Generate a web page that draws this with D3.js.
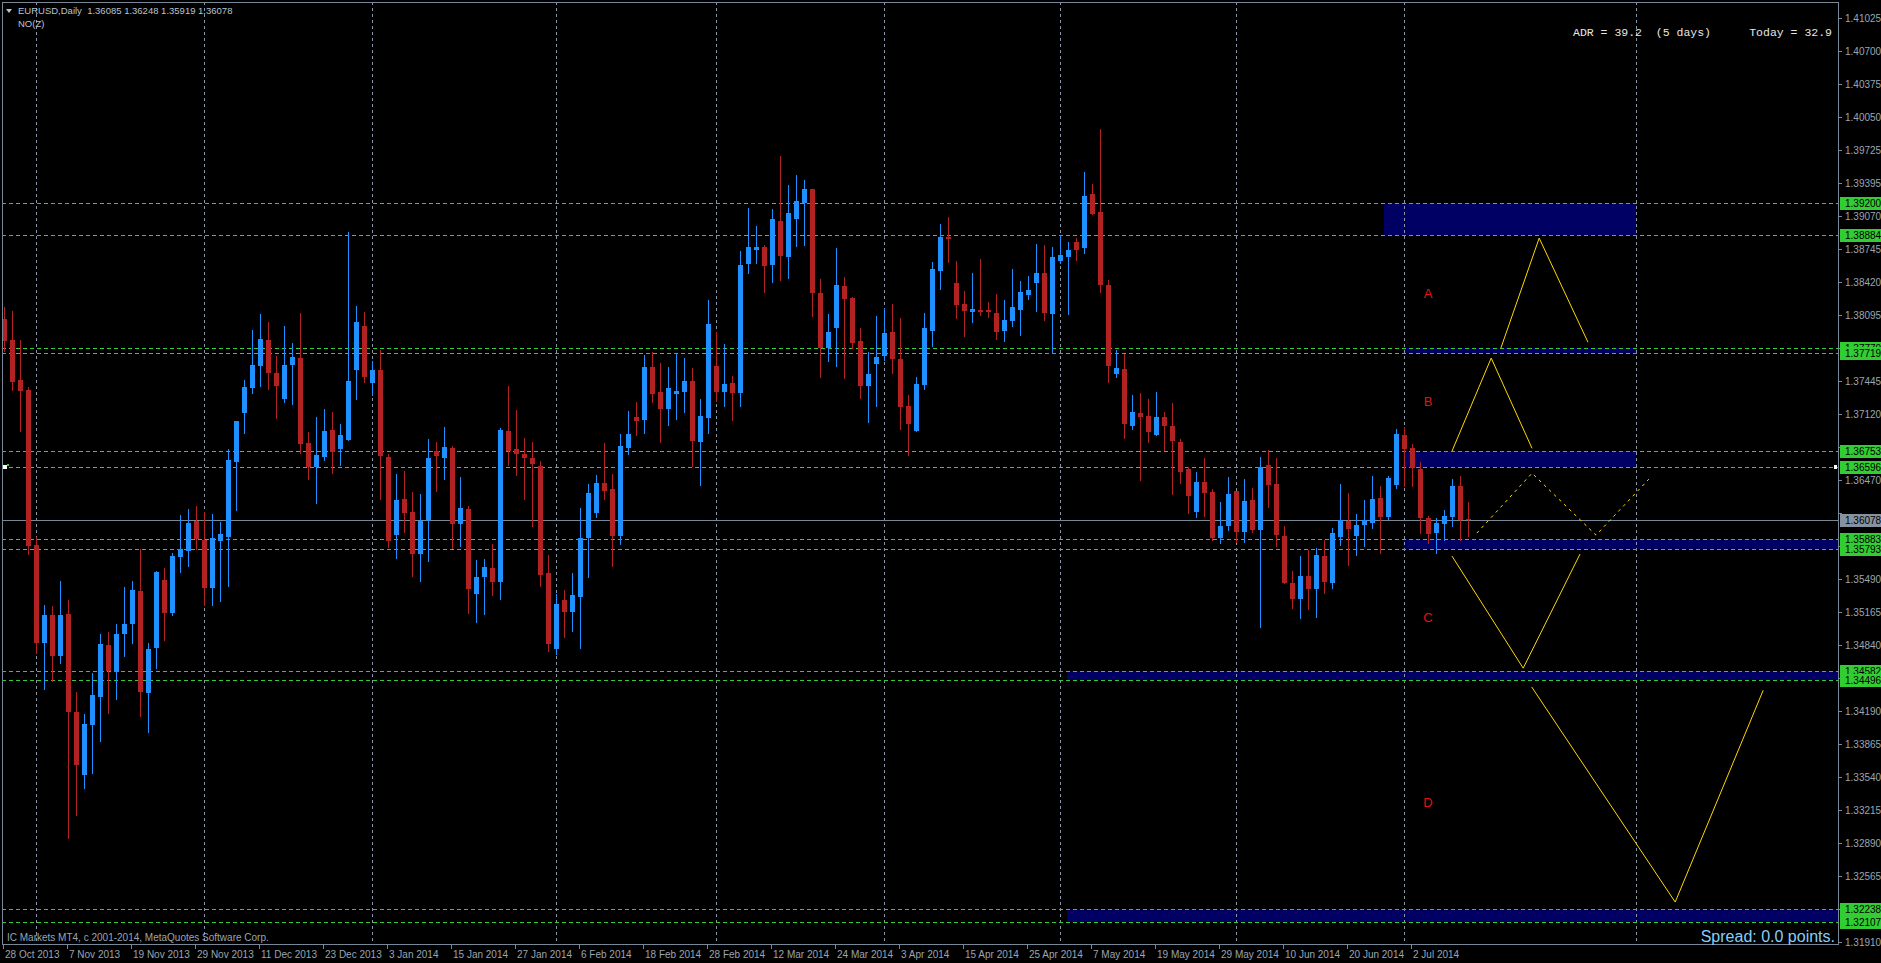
<!DOCTYPE html>
<html>
<head>
<meta charset="utf-8">
<script src="https://cdn.jsdelivr.net/npm/d3@7/dist/d3.min.js"></script>
<style>
  html, body { margin: 0; padding: 0; background: #000; overflow: hidden; }
  text { font-family: "Liberation Sans", Arial, sans-serif; }
</style>
</head>
<body>
<div id="chart"></div>
<script>
// daily bars [open, high, low, close], first bar is 28 Oct 2013
var bars = [
  [1.38061,1.38174,1.37744,1.37839],[1.37849,1.38138,1.37356,1.37433],[1.37454,1.37849,1.36950,1.37345],[1.37356,1.37384,1.35741,1.35818],
  [1.35825,1.35910,1.34764,1.34863],[1.34863,1.35240,1.34405,1.35134],[1.35134,1.35222,1.34482,1.34729],[1.34729,1.35469,1.34665,1.35134],
  [1.35145,1.35282,1.32938,1.34175],[1.34182,1.34376,1.33160,1.33653],[1.33558,1.34158,1.33431,1.34059],[1.34052,1.34563,1.33576,1.34348],
  [1.34323,1.34947,1.33893,1.34852],[1.34842,1.34965,1.34172,1.34581],[1.34570,1.35046,1.34306,1.34947],[1.34947,1.35409,1.34729,1.35046],
  [1.35046,1.35469,1.34859,1.35381],[1.35371,1.35787,1.34137,1.34376],[1.34366,1.34859,1.33978,1.34799],[1.34810,1.35568,1.34616,1.35558],
  [1.35480,1.35600,1.34888,1.35159],[1.35159,1.35744,1.35134,1.35716],[1.35706,1.36122,1.35558,1.35787],[1.35766,1.36182,1.35617,1.36044],
  [1.36062,1.36210,1.35787,1.35885],[1.35875,1.36150,1.35240,1.35406],[1.35406,1.36132,1.35233,1.35896],[1.35868,1.36051,1.35275,1.35935],
  [1.35903,1.36774,1.35424,1.36665],[1.36644,1.37056,1.36175,1.37049],[1.37130,1.37454,1.36933,1.37384],[1.37377,1.37948,1.37328,1.37603],
  [1.37592,1.38107,1.37398,1.37860],[1.37849,1.38026,1.37366,1.37525],[1.37525,1.37691,1.37081,1.37398],[1.37268,1.37990,1.37239,1.37603],
  [1.37603,1.37821,1.37222,1.37680],[1.37675,1.38119,1.36737,1.36823],[1.36836,1.36941,1.36477,1.36599],[1.36599,1.37089,1.36244,1.36714],
  [1.36698,1.37168,1.36665,1.36951],[1.36961,1.37139,1.36540,1.36747],[1.36773,1.37020,1.36615,1.36911],[1.36862,1.38916,1.36862,1.37445],
  [1.37553,1.38185,1.37267,1.38030],[1.37991,1.38129,1.37438,1.37484],[1.37428,1.37642,1.37306,1.37553],[1.37553,1.37751,1.36280,1.36707],
  [1.36694,1.36724,1.35809,1.35868],[1.35924,1.36527,1.35701,1.36270],[1.36280,1.36556,1.35957,1.36145],[1.36151,1.36349,1.35523,1.35740],
  [1.35740,1.36329,1.35474,1.36066],[1.36072,1.36872,1.35671,1.36684],[1.36754,1.36842,1.36362,1.36707],[1.36684,1.36990,1.36477,1.36793],
  [1.36780,1.36803,1.35799,1.36033],[1.36033,1.36497,1.35819,1.36194],[1.36181,1.36211,1.35158,1.35395],[1.35345,1.35678,1.35069,1.35510],
  [1.35510,1.35688,1.35144,1.35608],[1.35598,1.35835,1.35332,1.35460],[1.35460,1.36980,1.35293,1.36961],[1.36951,1.37395,1.36616,1.36754],
  [1.36773,1.37158,1.36517,1.36724],[1.36724,1.36882,1.36280,1.36684],[1.36684,1.36842,1.36013,1.36625],[1.36606,1.36655,1.35421,1.35529],
  [1.35549,1.35727,1.34779,1.34848],[1.34799,1.35348,1.34756,1.35243],[1.35283,1.35381,1.34921,1.35167],[1.35167,1.35549,1.34977,1.35332],
  [1.35316,1.36194,1.34812,1.35895],[1.35898,1.36434,1.35513,1.36336],[1.36145,1.36516,1.36100,1.36444],[1.36441,1.36836,1.36280,1.36359],
  [1.36378,1.36526,1.35620,1.35914],[1.35914,1.36921,1.35842,1.36803],[1.36786,1.37152,1.36724,1.36921],[1.37092,1.37240,1.36911,1.37050],
  [1.37060,1.37701,1.36934,1.37583],[1.37583,1.37731,1.37240,1.37316],[1.37336,1.37622,1.36846,1.37168],[1.37168,1.37583,1.37010,1.37375],
  [1.37316,1.37718,1.37069,1.37346],[1.37336,1.37672,1.37142,1.37445],[1.37445,1.37573,1.36609,1.36852],[1.36842,1.37267,1.36418,1.37099],
  [1.37079,1.38244,1.36934,1.38007],[1.37593,1.37932,1.37247,1.37336],[1.37336,1.37810,1.37198,1.37415],[1.37425,1.37494,1.37060,1.37326],
  [1.37326,1.38728,1.37198,1.38590],[1.38600,1.39152,1.38514,1.38767],[1.38738,1.38975,1.38610,1.38767],[1.38767,1.38787,1.38323,1.38580],
  [1.38590,1.39142,1.38422,1.39044],[1.39024,1.39666,1.38442,1.38679],[1.38669,1.39379,1.38462,1.39103],[1.39044,1.39478,1.38777,1.39221],
  [1.39202,1.39429,1.38787,1.39340],[1.39340,1.39340,1.38086,1.38313],[1.38313,1.38451,1.37487,1.37770],[1.37770,1.38106,1.37642,1.37928],
  [1.37971,1.38757,1.37593,1.38392],[1.38382,1.38471,1.37478,1.38257],[1.38264,1.38274,1.37770,1.37823],[1.37839,1.37968,1.37280,1.37398],
  [1.37398,1.37731,1.37043,1.37514],[1.37616,1.38086,1.37201,1.37681],[1.37695,1.38165,1.37653,1.37918],[1.37928,1.38205,1.37527,1.37665],
  [1.37662,1.38066,1.36974,1.37191],[1.37198,1.37306,1.36717,1.37023],[1.36954,1.37484,1.36954,1.37415],[1.37405,1.38116,1.37366,1.37968],
  [1.37938,1.38619,1.37790,1.38550],[1.38530,1.38994,1.38356,1.38866],[1.38866,1.39063,1.38619,1.38846],[1.38412,1.38629,1.38066,1.38195],
  [1.38205,1.38333,1.37889,1.38136],[1.38126,1.38511,1.38027,1.38155],[1.38145,1.38649,1.38096,1.38126],[1.38145,1.38224,1.38076,1.38126],
  [1.38116,1.38303,1.37859,1.37928],[1.37938,1.38244,1.37839,1.38047],[1.38037,1.38550,1.37987,1.38175],[1.38145,1.38432,1.37899,1.38323],
  [1.38294,1.38481,1.38254,1.38343],[1.38412,1.38797,1.38136,1.38511],[1.38511,1.38787,1.38047,1.38116],[1.38106,1.38767,1.37721,1.38669],
  [1.38629,1.38886,1.38609,1.38688],[1.38669,1.38817,1.38106,1.38738],[1.38817,1.38856,1.38639,1.38738],[1.38757,1.39508,1.38708,1.39271],
  [1.39291,1.39389,1.39093,1.39093],[1.39113,1.39932,1.38323,1.38392],[1.38392,1.38442,1.37438,1.37593],[1.37517,1.37751,1.37487,1.37573],
  [1.37563,1.37711,1.36885,1.37023],[1.37004,1.37306,1.36974,1.37139],[1.37129,1.37326,1.36471,1.37093],[1.37099,1.37267,1.36846,1.36944],
  [1.36915,1.37336,1.36915,1.37089],[1.37089,1.37138,1.36767,1.37004],[1.37000,1.37227,1.36332,1.36856],[1.36842,1.36872,1.36441,1.36550],
  [1.36576,1.36599,1.36145,1.36313],[1.36155,1.36546,1.36105,1.36448],[1.36448,1.36684,1.36115,1.36339],[1.36349,1.36378,1.35878,1.35898],
  [1.35898,1.36250,1.35848,1.36013],[1.36013,1.36497,1.35974,1.36329],[1.36359,1.36359,1.35858,1.35954],[1.35954,1.36477,1.35858,1.36260],
  [1.36270,1.36388,1.35954,1.35974],[1.35974,1.36694,1.35019,1.36596],[1.36616,1.36763,1.36204,1.36418],[1.36428,1.36684,1.35819,1.35924],
  [1.35914,1.36013,1.35454,1.35454],[1.35451,1.35572,1.35207,1.35296],[1.35296,1.35717,1.35108,1.35520],[1.35520,1.35780,1.35197,1.35395],
  [1.35395,1.35796,1.35118,1.35727],[1.35717,1.35875,1.35355,1.35464],[1.35454,1.35993,1.35405,1.35944],[1.35908,1.36428,1.35829,1.36072],
  [1.36062,1.36339,1.35628,1.35983],[1.35914,1.36135,1.35727,1.36023],[1.36023,1.36270,1.35816,1.36072],[1.36046,1.36507,1.35997,1.36280],
  [1.36290,1.36408,1.35750,1.36102],[1.36102,1.36507,1.36085,1.36487],[1.36418,1.36971,1.36392,1.36921],[1.36911,1.36994,1.36411,1.36773],
  [1.36783,1.36823,1.36411,1.36589],[1.36576,1.36645,1.35944,1.36095],[1.36092,1.36112,1.35848,1.35934],[1.35944,1.36092,1.35750,1.36043],
  [1.36036,1.36171,1.35875,1.36112],[1.36105,1.36477,1.36013,1.36408],[1.36408,1.36507,1.35875,1.36072],[1.36085,1.36248,1.35919,1.36078]
];

var dateLabels = ["28 Oct 2013", "7 Nov 2013", "19 Nov 2013", "29 Nov 2013", "11 Dec 2013", "23 Dec 2013",
  "3 Jan 2014", "15 Jan 2014", "27 Jan 2014", "6 Feb 2014", "18 Feb 2014", "28 Feb 2014", "12 Mar 2014",
  "24 Mar 2014", "3 Apr 2014", "15 Apr 2014", "25 Apr 2014", "7 May 2014", "19 May 2014", "29 May 2014",
  "10 Jun 2014", "20 Jun 2014", "2 Jul 2014"];
var dateLabelBars = [0, 8, 16, 24, 32, 40, 48, 56, 64, 72, 80, 88, 96, 104, 112, 120, 128, 136, 144, 152, 160, 168, 176];

// bars where a new month starts (vertical grid)
var monthBars = [4, 25, 46, 69, 89, 110, 132, 154, 175, 204];

var priceTicks = [1.41025, 1.40700, 1.40375, 1.40050, 1.39725, 1.39395, 1.39070, 1.38745, 1.38420, 1.38095,
  1.37770, 1.37445, 1.37120, 1.36795, 1.36470, 1.36145, 1.35820, 1.35490, 1.35165, 1.34840, 1.34515,
  1.34190, 1.33865, 1.33540, 1.33215, 1.32890, 1.32565, 1.32240, 1.31910];

// horizontal levels (green dashed)
var levels = [1.39200, 1.38884, 1.37770, 1.37719, 1.36753, 1.36596, 1.35883, 1.35793, 1.34582, 1.34496, 1.32238, 1.32107];

// zones: [top, bottom, from bar, to bar] (null = runs to the right edge)
var zones = [
  [1.39200, 1.38884, 172.5, 204],
  [1.37770, 1.37719, 174.9, 204],
  [1.36753, 1.36596, 174.9, 204],
  [1.35883, 1.35793, 174.9, null],
  [1.34582, 1.34496, 132.9, null],
  [1.32238, 1.32107, 132.9, null]
];

// projected swings [bar, price]
var swingA = [[187.1, 1.37769], [191.9, 1.38856], [198.0, 1.37828]];
var swingB = [[181.0, 1.36754], [185.9, 1.37672], [191.0, 1.36782]];
var swingC = [[181.0, 1.35718], [189.9, 1.34612], [197.0, 1.35738]];
var swingD = [[190.96, 1.34427], [208.9, 1.32304], [219.9, 1.34394]];
var swingDashed = [[184.1, 1.35945], [191.0, 1.36536], [199.0, 1.35925], [205.6, 1.36477]];

var waveNames = ["A", "B", "C", "D"];
var waveBars = [178, 178, 178, 178];
var wavePrices = [1.38306, 1.37249, 1.35117, 1.33291];

var bidPrice = 1.36078;
var markerPrice = 1.36596;

var width = 1881, height = 963;
var plot = {left: 2, top: 2, right: 1838, bottom: 944};

var svg = d3.select("#chart")
  .append("svg")
    .attr("width", width)
    .attr("height", height)
    .style("display", "block")
    .style("background", "#000");

var x = d3.scaleLinear().domain([0, 229]).range([4, 1836]);
var y = d3.scaleLinear().domain([1.31910, 1.41025]).range([942, 18.3]);

function py(p) { return Math.round(y(p)) + 0.5; }
function px(i) { return Math.round(x(i)) + 0.5; }

svg.append("clipPath")
    .attr("id", "clip")
  .append("rect")
    .attr("x", plot.left)
    .attr("y", plot.top)
    .attr("width", plot.right - plot.left)
    .attr("height", plot.bottom - plot.top);

var g = svg.append("g").attr("clip-path", "url(#clip)");

// zones
g.selectAll(".zone")
  .data(zones)
  .enter()
  .append("rect")
    .attr("x", function(d) { return Math.round(x(d[2])); })
    .attr("y", function(d) { return Math.round(y(d[0])); })
    .attr("width", function(d) { return (d[3] === null ? plot.right : Math.round(x(d[3]))) - Math.round(x(d[2])); })
    .attr("height", function(d) { return Math.round(y(d[1])) - Math.round(y(d[0])); })
    .style("fill", "#000064");

// month grid
g.selectAll(".vgrid")
  .data(monthBars)
  .enter()
  .append("line")
    .attr("x1", function(d) { return px(d); })
    .attr("x2", function(d) { return px(d); })
    .attr("y1", plot.top)
    .attr("y2", plot.bottom)
    .style("stroke", "#8a96a4")
    .style("stroke-dasharray", "3,3");

// levels
g.selectAll(".level")
  .data(levels)
  .enter()
  .append("line")
    .attr("x1", plot.left)
    .attr("x2", plot.right)
    .attr("y1", function(d) { return py(d); })
    .attr("y2", function(d) { return py(d); })
    .style("stroke", "#32cd32")
    .style("stroke-dasharray", "4,3");

// bid line
g.append("line")
    .attr("x1", plot.left)
    .attr("x2", plot.right)
    .attr("y1", py(bidPrice))
    .attr("y2", py(bidPrice))
    .style("stroke", "#778899");

// candles
var candle = g.selectAll(".candle")
  .data(bars)
  .enter()
  .append("g");

function barColor(d) { return d[3] > d[0] ? "#1e90ff" : "#b22222"; }

candle.append("line")
    .attr("x1", function(d, i) { return px(i); })
    .attr("x2", function(d, i) { return px(i); })
    .attr("y1", function(d) { return Math.round(y(d[1])); })
    .attr("y2", function(d) { return Math.round(y(d[2])) + 1; })
    .style("stroke", barColor);

candle.append("rect")
    .attr("x", function(d, i) { return Math.round(x(i)) - 2; })
    .attr("width", 5)
    .attr("y", function(d) { return Math.round(y(Math.max(d[0], d[3]))); })
    .attr("height", function(d) {
      return Math.max(1, Math.round(y(Math.min(d[0], d[3]))) - Math.round(y(Math.max(d[0], d[3]))));
    })
    .style("fill", barColor);

// projected swings
var line = d3.line()
  .x(function(d) { return x(d[0]); })
  .y(function(d) { return y(d[1]); });

[swingA, swingB, swingC, swingD].forEach(function(s) {
  g.append("path")
      .attr("d", line(s))
      .style("fill", "none")
      .style("stroke", "#ffd700")
      .style("stroke-width", 1);
});

g.append("path")
    .attr("d", line(swingDashed))
    .style("fill", "none")
    .style("stroke", "#ffd700")
    .style("stroke-dasharray", "3,4");

g.selectAll(".wave")
  .data(waveNames)
  .enter()
  .append("text")
    .attr("x", function(d, i) { return x(waveBars[i]); })
    .attr("y", function(d, i) { return y(wavePrices[i]); })
    .attr("dy", "0.35em")
    .attr("text-anchor", "middle")
    .style("font-size", "13px")
    .style("fill", "#e81010")
    .text(function(d) { return d; });

// small marker arrows on the 1.36596 level
g.append("rect")
    .attr("x", 3).attr("y", Math.round(y(markerPrice)) - 2)
    .attr("width", 4).attr("height", 4)
    .style("fill", "#fff");
g.append("rect")
    .attr("x", 7).attr("y", Math.round(y(markerPrice)) - 3)
    .attr("width", 2).attr("height", 2)
    .style("fill", "#32cd32");
svg.append("rect")
    .attr("x", 1834).attr("y", Math.round(y(markerPrice)) - 2)
    .attr("width", 3).attr("height", 4)
    .style("fill", "#fff");

// frame
svg.append("rect")
    .attr("x", plot.left + 0.5)
    .attr("y", plot.top + 0.5)
    .attr("width", plot.right - plot.left)
    .attr("height", plot.bottom - plot.top)
    .style("fill", "none")
    .style("stroke", "#778899");

// price axis
var axisColor = "#9aa6b2";
var boxPrices = levels.concat([bidPrice]);

svg.selectAll(".ptick")
  .data(priceTicks)
  .enter()
  .append("line")
    .attr("x1", plot.right)
    .attr("x2", plot.right + 4)
    .attr("y1", function(d) { return py(d); })
    .attr("y2", function(d) { return py(d); })
    .style("stroke", "#778899");

// tick labels that sit under a price box are hidden by it
svg.selectAll(".plabel")
  .data(priceTicks.filter(function(t) {
    return !boxPrices.some(function(b) { return Math.abs(y(b) - y(t)) < 9; });
  }))
  .enter()
  .append("text")
    .attr("x", plot.right + 7)
    .attr("y", function(d) { return py(d); })
    .attr("dy", "0.35em")
    .style("font-size", "10px")
    .style("fill", axisColor)
    .text(function(d) { return d.toFixed(5); });

// level price boxes
var box = svg.selectAll(".lbox")
  .data(levels)
  .enter()
  .append("g");

box.append("rect")
    .attr("x", plot.right + 2)
    .attr("y", function(d) { return Math.round(y(d)) - 6; })
    .attr("width", width - plot.right - 2)
    .attr("height", 13)
    .style("fill", "#32cd32");

box.append("text")
    .attr("x", plot.right + 7)
    .attr("y", function(d) { return py(d); })
    .attr("dy", "0.35em")
    .style("font-size", "10px")
    .style("fill", "#000")
    .text(function(d) { return d.toFixed(5); });

svg.append("rect")
    .attr("x", plot.right + 2)
    .attr("y", Math.round(y(bidPrice)) - 6)
    .attr("width", width - plot.right - 2)
    .attr("height", 13)
    .style("fill", "#8592a0");
svg.append("text")
    .attr("x", plot.right + 7)
    .attr("y", py(bidPrice))
    .attr("dy", "0.35em")
    .style("font-size", "10px")
    .style("fill", "#000")
    .text(bidPrice.toFixed(5));

// time axis
svg.selectAll(".ttick")
  .data(dateLabelBars)
  .enter()
  .append("line")
    .attr("x1", function(d) { return px(d) - 1; })
    .attr("x2", function(d) { return px(d) - 1; })
    .attr("y1", plot.bottom)
    .attr("y2", plot.bottom + 5)
    .style("stroke", "#778899");

svg.selectAll(".tlabel")
  .data(dateLabels)
  .enter()
  .append("text")
    .attr("x", function(d, i) { return Math.round(x(dateLabelBars[i])) + 1; })
    .attr("y", 958)
    .style("font-size", "10px")
    .style("fill", axisColor)
    .text(function(d) { return d; });

// header
svg.append("path")
    .attr("d", "M6,9 L12,9 L9,13 Z")
    .style("fill", "#b8c4d0");
svg.append("text")
    .attr("x", 18).attr("y", 14)
    .style("font-size", "9.5px")
    .style("fill", "#b8c4d0")
    .style("white-space", "pre")
    .text("EURUSD,Daily  1.36085 1.36248 1.35919 1.36078");
svg.append("text")
    .attr("x", 18).attr("y", 27)
    .style("font-size", "9.5px")
    .style("fill", "#b8c4d0")
    .text("NO(Z)");

svg.append("text")
    .attr("x", 1573).attr("y", 35.5)
    .style("font-family", "'Liberation Mono', 'DejaVu Sans Mono', monospace")
    .style("font-size", "11.5px")
    .style("fill", "#e6e6e6")
    .style("white-space", "pre")
    .text("ADR = 39.2  (5 days)");
svg.append("text")
    .attr("x", 1832).attr("y", 35.5)
    .attr("text-anchor", "end")
    .style("font-family", "'Liberation Mono', 'DejaVu Sans Mono', monospace")
    .style("font-size", "11.5px")
    .style("fill", "#e6e6e6")
    .text("Today = 32.9");

svg.append("text")
    .attr("x", 7).attr("y", 941)
    .style("font-size", "10px")
    .style("fill", axisColor)
    .text("IC Markets MT4, c 2001-2014, MetaQuotes Software Corp.");

svg.append("text")
    .attr("x", 1835).attr("y", 942)
    .attr("text-anchor", "end")
    .style("font-size", "16px")
    .style("fill", "#87cefa")
    .text("Spread: 0.0 points.");
</script>
</body>
</html>
